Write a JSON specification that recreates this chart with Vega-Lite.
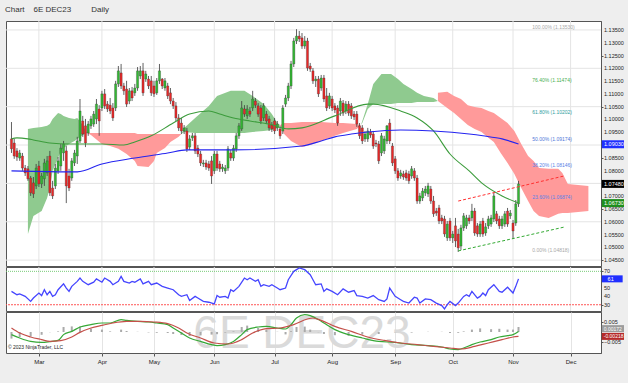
{
"$schema": "https://vega.github.io/schema/vega-lite/v6.json",
"background": "#eeeeee",
"padding": {"left": 5, "top": 6, "right": 0, "bottom": 18},
"title": {"text": "Chart\u00a0\u00a0\u00a0\u00a06E DEC23\u00a0\u00a0\u00a0\u00a0\u00a0\u00a0\u00a0\u00a0\u00a0Daily", "anchor": "start", "fontSize": 8, "fontWeight": "normal", "color": "#333333", "offset": 6, "font": "Liberation Sans"},
"spacing": 1,
"bounds": "flush",
"config": {
  "view": {"fill": "#ffffff", "stroke": "#555555", "strokeWidth": 1},
  "scale": {"continuousPadding": 0},
  "axis": {"labelFont": "Liberation Sans", "labelFontSize": 5.5, "labelColor": "#222222", "tickColor": "#555555", "domainColor": "#555555", "gridColor": "#e4e4e4", "labelOverlap": false},
  "text": {"font": "Liberation Sans"}
},
"datasets": {
  "months": [{"t":0},{"t":23},{"t":42},{"t":64},{"t":86},{"t":107},{"t":130},{"t":151},{"t":173},{"t":194}],
  "plabels": [{"g":1.045},{"g":1.05},{"g":1.055},{"g":1.06},{"g":1.065},{"g":1.07},{"g":1.08},{"g":1.085},{"g":1.095},{"g":1.1},{"g":1.105},{"g":1.11},{"g":1.115},{"g":1.12},{"g":1.125},{"g":1.13},{"g":1.135}],
  "candles": [
{"t":-10,"o":1.0924,"h":1.0990,"l":1.0869,"c":1.0885},
{"t":-9,"o":1.0908,"h":1.0924,"l":1.0846,"c":1.0857},
{"t":-8,"o":1.0877,"h":1.0888,"l":1.0838,"c":1.0853},
{"t":-7,"o":1.0849,"h":1.0881,"l":1.0838,"c":1.0869},
{"t":-6,"o":1.0857,"h":1.0869,"l":1.0799,"c":1.0810},
{"t":-5,"o":1.0810,"h":1.0822,"l":1.0779,"c":1.0791},
{"t":-4,"o":1.0807,"h":1.0818,"l":1.0760,"c":1.0768},
{"t":-3,"o":1.0771,"h":1.0779,"l":1.0701,"c":1.0713},
{"t":-2,"o":1.0752,"h":1.0775,"l":1.0693,"c":1.0709},
{"t":-1,"o":1.0740,"h":1.0826,"l":1.0728,"c":1.0810},
{"t":0,"o":1.0818,"h":1.0838,"l":1.0736,"c":1.0748},
{"t":1,"o":1.0748,"h":1.0791,"l":1.0732,"c":1.0779},
{"t":2,"o":1.0768,"h":1.0846,"l":1.0740,"c":1.0830},
{"t":3,"o":1.0791,"h":1.0857,"l":1.0779,"c":1.0838},
{"t":4,"o":1.0857,"h":1.0877,"l":1.0701,"c":1.0713},
{"t":5,"o":1.0732,"h":1.0760,"l":1.0689,"c":1.0701},
{"t":6,"o":1.0740,"h":1.0826,"l":1.0728,"c":1.0810},
{"t":7,"o":1.0799,"h":1.0853,"l":1.0787,"c":1.0838},
{"t":8,"o":1.0818,"h":1.0904,"l":1.0799,"c":1.0888},
{"t":9,"o":1.0869,"h":1.0916,"l":1.0838,"c":1.0904},
{"t":10,"o":1.0877,"h":1.0896,"l":1.0673,"c":1.0740},
{"t":11,"o":1.0779,"h":1.0807,"l":1.0720,"c":1.0732},
{"t":12,"o":1.0771,"h":1.0849,"l":1.0760,"c":1.0838},
{"t":13,"o":1.0830,"h":1.0881,"l":1.0818,"c":1.0869},
{"t":14,"o":1.0857,"h":1.0932,"l":1.0826,"c":1.0916},
{"t":15,"o":1.0916,"h":1.1080,"l":1.0908,"c":1.1033},
{"t":16,"o":1.0994,"h":1.1014,"l":1.0932,"c":1.0943},
{"t":17,"o":1.0975,"h":1.1002,"l":1.0892,"c":1.0908},
{"t":18,"o":1.0947,"h":1.0994,"l":1.0936,"c":1.0982},
{"t":19,"o":1.0975,"h":1.1014,"l":1.0963,"c":1.1002},
{"t":20,"o":1.0982,"h":1.1033,"l":1.0971,"c":1.1021},
{"t":21,"o":1.1002,"h":1.1080,"l":1.0982,"c":1.1060},
{"t":22,"o":1.1041,"h":1.1056,"l":1.0936,"c":1.0994},
{"t":23,"o":1.1045,"h":1.1112,"l":1.1033,"c":1.1100},
{"t":24,"o":1.1100,"h":1.1119,"l":1.1041,"c":1.1053},
{"t":25,"o":1.1060,"h":1.1072,"l":1.1029,"c":1.1041},
{"t":26,"o":1.1056,"h":1.1084,"l":1.1021,"c":1.1033},
{"t":27,"o":1.1045,"h":1.1064,"l":1.0994,"c":1.1006},
{"t":28,"o":1.1045,"h":1.1151,"l":1.1033,"c":1.1139},
{"t":29,"o":1.1139,"h":1.1209,"l":1.1127,"c":1.1190},
{"t":30,"o":1.1182,"h":1.1217,"l":1.1119,"c":1.1131},
{"t":31,"o":1.1131,"h":1.1143,"l":1.1096,"c":1.1112},
{"t":32,"o":1.1119,"h":1.1151,"l":1.1049,"c":1.1060},
{"t":33,"o":1.1072,"h":1.1123,"l":1.1060,"c":1.1112},
{"t":34,"o":1.1112,"h":1.1127,"l":1.1072,"c":1.1084},
{"t":35,"o":1.1104,"h":1.1139,"l":1.1092,"c":1.1123},
{"t":36,"o":1.1123,"h":1.1205,"l":1.1112,"c":1.1190},
{"t":37,"o":1.1170,"h":1.1209,"l":1.1158,"c":1.1190},
{"t":38,"o":1.1190,"h":1.1221,"l":1.1092,"c":1.1104},
{"t":39,"o":1.1158,"h":1.1190,"l":1.1147,"c":1.1178},
{"t":40,"o":1.1158,"h":1.1170,"l":1.1119,"c":1.1131},
{"t":41,"o":1.1151,"h":1.1170,"l":1.1092,"c":1.1104},
{"t":42,"o":1.1131,"h":1.1151,"l":1.1088,"c":1.1100},
{"t":43,"o":1.1104,"h":1.1162,"l":1.1096,"c":1.1151},
{"t":44,"o":1.1151,"h":1.1217,"l":1.1139,"c":1.1190},
{"t":45,"o":1.1158,"h":1.1162,"l":1.1119,"c":1.1131},
{"t":46,"o":1.1123,"h":1.1162,"l":1.1112,"c":1.1151},
{"t":47,"o":1.1131,"h":1.1143,"l":1.1080,"c":1.1092},
{"t":48,"o":1.1104,"h":1.1123,"l":1.1060,"c":1.1072},
{"t":49,"o":1.1072,"h":1.1084,"l":1.1041,"c":1.1053},
{"t":50,"o":1.1053,"h":1.1068,"l":1.0994,"c":1.1006},
{"t":51,"o":1.1006,"h":1.1021,"l":1.0955,"c":1.0967},
{"t":52,"o":1.0986,"h":1.1006,"l":1.0943,"c":1.0955},
{"t":53,"o":1.0955,"h":1.0978,"l":1.0943,"c":1.0967},
{"t":54,"o":1.0955,"h":1.0967,"l":1.0873,"c":1.0885},
{"t":55,"o":1.0892,"h":1.0939,"l":1.0881,"c":1.0924},
{"t":56,"o":1.0928,"h":1.0947,"l":1.0916,"c":1.0936},
{"t":57,"o":1.0936,"h":1.0947,"l":1.0865,"c":1.0877},
{"t":58,"o":1.0888,"h":1.0900,"l":1.0853,"c":1.0865},
{"t":59,"o":1.0865,"h":1.0877,"l":1.0818,"c":1.0830},
{"t":60,"o":1.0826,"h":1.0842,"l":1.0814,"c":1.0830},
{"t":61,"o":1.0830,"h":1.0842,"l":1.0803,"c":1.0814},
{"t":62,"o":1.0826,"h":1.0838,"l":1.0799,"c":1.0810},
{"t":63,"o":1.0838,"h":1.0857,"l":1.0748,"c":1.0779},
{"t":64,"o":1.0799,"h":1.0877,"l":1.0787,"c":1.0865},
{"t":65,"o":1.0865,"h":1.0877,"l":1.0799,"c":1.0810},
{"t":66,"o":1.0826,"h":1.0838,"l":1.0795,"c":1.0807},
{"t":67,"o":1.0807,"h":1.0826,"l":1.0795,"c":1.0814},
{"t":68,"o":1.0799,"h":1.0822,"l":1.0787,"c":1.0810},
{"t":69,"o":1.0810,"h":1.0896,"l":1.0799,"c":1.0885},
{"t":70,"o":1.0869,"h":1.0881,"l":1.0838,"c":1.0849},
{"t":71,"o":1.0849,"h":1.0900,"l":1.0838,"c":1.0888},
{"t":72,"o":1.0885,"h":1.0947,"l":1.0873,"c":1.0936},
{"t":73,"o":1.0936,"h":1.0986,"l":1.0924,"c":1.0975},
{"t":74,"o":1.0963,"h":1.1072,"l":1.0955,"c":1.1045},
{"t":75,"o":1.1041,"h":1.1056,"l":1.1010,"c":1.1021},
{"t":76,"o":1.1014,"h":1.1056,"l":1.1002,"c":1.1041},
{"t":77,"o":1.1033,"h":1.1049,"l":1.1010,"c":1.1021},
{"t":78,"o":1.1045,"h":1.1112,"l":1.1033,"c":1.1080},
{"t":79,"o":1.1072,"h":1.1084,"l":1.1045,"c":1.1056},
{"t":80,"o":1.1053,"h":1.1064,"l":1.1010,"c":1.1021},
{"t":81,"o":1.1045,"h":1.1056,"l":1.0982,"c":1.0994},
{"t":82,"o":1.1006,"h":1.1064,"l":1.0994,"c":1.1053},
{"t":83,"o":1.1021,"h":1.1033,"l":1.0982,"c":1.0994},
{"t":84,"o":1.1002,"h":1.1014,"l":1.0955,"c":1.0967},
{"t":85,"o":1.0978,"h":1.0990,"l":1.0951,"c":1.0963},
{"t":86,"o":1.0994,"h":1.1006,"l":1.0943,"c":1.0955},
{"t":87,"o":1.0967,"h":1.0994,"l":1.0955,"c":1.0982},
{"t":88,"o":1.0963,"h":1.0975,"l":1.0924,"c":1.0936},
{"t":89,"o":1.0955,"h":1.1056,"l":1.0943,"c":1.1045},
{"t":90,"o":1.1060,"h":1.1096,"l":1.1049,"c":1.1084},
{"t":91,"o":1.1084,"h":1.1143,"l":1.1072,"c":1.1131},
{"t":92,"o":1.1131,"h":1.1229,"l":1.1119,"c":1.1217},
{"t":93,"o":1.1217,"h":1.1319,"l":1.1205,"c":1.1307},
{"t":94,"o":1.1307,"h":1.1353,"l":1.1295,"c":1.1326},
{"t":95,"o":1.1326,"h":1.1346,"l":1.1303,"c":1.1315},
{"t":96,"o":1.1319,"h":1.1338,"l":1.1276,"c":1.1287},
{"t":97,"o":1.1287,"h":1.1326,"l":1.1276,"c":1.1307},
{"t":98,"o":1.1307,"h":1.1319,"l":1.1190,"c":1.1201},
{"t":99,"o":1.1209,"h":1.1221,"l":1.1186,"c":1.1197},
{"t":100,"o":1.1190,"h":1.1201,"l":1.1139,"c":1.1151},
{"t":101,"o":1.1151,"h":1.1170,"l":1.1127,"c":1.1158},
{"t":102,"o":1.1158,"h":1.1170,"l":1.1088,"c":1.1100},
{"t":103,"o":1.1123,"h":1.1174,"l":1.1112,"c":1.1162},
{"t":104,"o":1.1162,"h":1.1174,"l":1.1068,"c":1.1080},
{"t":105,"o":1.1092,"h":1.1123,"l":1.1033,"c":1.1045},
{"t":106,"o":1.1053,"h":1.1104,"l":1.1041,"c":1.1092},
{"t":107,"o":1.1080,"h":1.1092,"l":1.1033,"c":1.1045},
{"t":108,"o":1.1053,"h":1.1064,"l":1.1025,"c":1.1037},
{"t":109,"o":1.1045,"h":1.1056,"l":1.0975,"c":1.0986},
{"t":110,"o":1.1033,"h":1.1084,"l":1.1014,"c":1.1072},
{"t":111,"o":1.1064,"h":1.1076,"l":1.1014,"c":1.1025},
{"t":112,"o":1.1033,"h":1.1072,"l":1.1021,"c":1.1060},
{"t":113,"o":1.1060,"h":1.1072,"l":1.1014,"c":1.1025},
{"t":114,"o":1.1053,"h":1.1064,"l":1.1002,"c":1.1014},
{"t":115,"o":1.1021,"h":1.1033,"l":1.0998,"c":1.1010},
{"t":116,"o":1.1021,"h":1.1033,"l":1.0971,"c":1.0982},
{"t":117,"o":1.0975,"h":1.0986,"l":1.0924,"c":1.0936},
{"t":118,"o":1.0967,"h":1.0978,"l":1.0904,"c":1.0916},
{"t":119,"o":1.0924,"h":1.0955,"l":1.0912,"c":1.0943},
{"t":120,"o":1.0924,"h":1.0967,"l":1.0912,"c":1.0955},
{"t":121,"o":1.0951,"h":1.0963,"l":1.0928,"c":1.0939},
{"t":122,"o":1.0943,"h":1.0955,"l":1.0885,"c":1.0896},
{"t":123,"o":1.0908,"h":1.0920,"l":1.0892,"c":1.0904},
{"t":124,"o":1.0904,"h":1.0916,"l":1.0826,"c":1.0838},
{"t":125,"o":1.0869,"h":1.0947,"l":1.0857,"c":1.0936},
{"t":126,"o":1.0877,"h":1.0936,"l":1.0865,"c":1.0924},
{"t":127,"o":1.0916,"h":1.0978,"l":1.0904,"c":1.0975},
{"t":128,"o":1.0986,"h":1.1002,"l":1.0904,"c":1.0916},
{"t":129,"o":1.0896,"h":1.0908,"l":1.0818,"c":1.0830},
{"t":130,"o":1.0846,"h":1.0857,"l":1.0787,"c":1.0799},
{"t":131,"o":1.0799,"h":1.0810,"l":1.0760,"c":1.0771},
{"t":132,"o":1.0779,"h":1.0803,"l":1.0768,"c":1.0791},
{"t":133,"o":1.0787,"h":1.0799,"l":1.0764,"c":1.0775},
{"t":134,"o":1.0791,"h":1.0803,"l":1.0760,"c":1.0771},
{"t":135,"o":1.0787,"h":1.0799,"l":1.0748,"c":1.0760},
{"t":136,"o":1.0779,"h":1.0818,"l":1.0768,"c":1.0807},
{"t":137,"o":1.0799,"h":1.0810,"l":1.0760,"c":1.0771},
{"t":138,"o":1.0771,"h":1.0783,"l":1.0670,"c":1.0681},
{"t":139,"o":1.0681,"h":1.0713,"l":1.0670,"c":1.0701},
{"t":140,"o":1.0693,"h":1.0732,"l":1.0681,"c":1.0720},
{"t":141,"o":1.0713,"h":1.0740,"l":1.0701,"c":1.0728},
{"t":142,"o":1.0709,"h":1.0752,"l":1.0697,"c":1.0740},
{"t":143,"o":1.0728,"h":1.0740,"l":1.0670,"c":1.0681},
{"t":144,"o":1.0681,"h":1.0701,"l":1.0619,"c":1.0631},
{"t":145,"o":1.0642,"h":1.0654,"l":1.0623,"c":1.0634},
{"t":146,"o":1.0654,"h":1.0666,"l":1.0591,"c":1.0603},
{"t":147,"o":1.0615,"h":1.0627,"l":1.0591,"c":1.0603},
{"t":148,"o":1.0611,"h":1.0623,"l":1.0541,"c":1.0552},
{"t":149,"o":1.0537,"h":1.0603,"l":1.0525,"c":1.0591},
{"t":150,"o":1.0603,"h":1.0615,"l":1.0525,"c":1.0537},
{"t":151,"o":1.0537,"h":1.0564,"l":1.0517,"c":1.0552},
{"t":152,"o":1.0584,"h":1.0615,"l":1.0501,"c":1.0525},
{"t":153,"o":1.0552,"h":1.0572,"l":1.0482,"c":1.0498},
{"t":154,"o":1.0505,"h":1.0588,"l":1.0490,"c":1.0576},
{"t":155,"o":1.0576,"h":1.0634,"l":1.0564,"c":1.0623},
{"t":156,"o":1.0584,"h":1.0627,"l":1.0572,"c":1.0615},
{"t":157,"o":1.0615,"h":1.0627,"l":1.0591,"c":1.0603},
{"t":158,"o":1.0615,"h":1.0670,"l":1.0603,"c":1.0642},
{"t":159,"o":1.0642,"h":1.0654,"l":1.0545,"c":1.0556},
{"t":160,"o":1.0584,"h":1.0595,"l":1.0541,"c":1.0552},
{"t":161,"o":1.0552,"h":1.0603,"l":1.0541,"c":1.0591},
{"t":162,"o":1.0603,"h":1.0615,"l":1.0541,"c":1.0552},
{"t":163,"o":1.0556,"h":1.0595,"l":1.0545,"c":1.0580},
{"t":164,"o":1.0584,"h":1.0623,"l":1.0572,"c":1.0611},
{"t":165,"o":1.0591,"h":1.0627,"l":1.0580,"c":1.0615},
{"t":166,"o":1.0611,"h":1.0713,"l":1.0599,"c":1.0701},
{"t":167,"o":1.0631,"h":1.0642,"l":1.0591,"c":1.0603},
{"t":168,"o":1.0611,"h":1.0623,"l":1.0572,"c":1.0584},
{"t":169,"o":1.0584,"h":1.0623,"l":1.0572,"c":1.0611},
{"t":170,"o":1.0591,"h":1.0642,"l":1.0580,"c":1.0631},
{"t":171,"o":1.0642,"h":1.0654,"l":1.0580,"c":1.0591},
{"t":172,"o":1.0623,"h":1.0646,"l":1.0611,"c":1.0634},
{"t":173,"o":1.0595,"h":1.0607,"l":1.0533,"c":1.0564},
{"t":174,"o":1.0595,"h":1.0685,"l":1.0584,"c":1.0670},
{"t":175,"o":1.0670,"h":1.0760,"l":1.0658,"c":1.0748}
  ],
  "cloud": [
{"seg":"g1","kind":"up","t":-4,"hi":1.0963,"lo":1.0552},
{"seg":"g1","kind":"up","t":-2,"hi":1.0967,"lo":1.0623},
{"seg":"g1","kind":"up","t":1,"hi":1.0971,"lo":1.0642},
{"seg":"g1","kind":"up","t":3,"hi":1.0975,"lo":1.0693},
{"seg":"g1","kind":"up","t":4,"hi":1.0982,"lo":1.0732},
{"seg":"g1","kind":"up","t":5,"hi":1.1002,"lo":1.0799},
{"seg":"g1","kind":"up","t":7,"hi":1.1025,"lo":1.0849},
{"seg":"g1","kind":"up","t":8,"hi":1.1021,"lo":1.0877},
{"seg":"g1","kind":"up","t":9,"hi":1.1014,"lo":1.0888},
{"seg":"g1","kind":"up","t":11,"hi":1.1006,"lo":1.0904},
{"seg":"g1","kind":"up","t":13,"hi":1.1002,"lo":1.0916},
{"seg":"g1","kind":"up","t":14,"hi":1.1006,"lo":1.0924},
{"seg":"g1","kind":"up","t":16,"hi":1.0978,"lo":1.0939},
{"seg":"g1","kind":"up","t":17.5,"hi":1.0947,"lo":1.0947},
{"seg":"r1","kind":"down","t":17.5,"hi":1.0947,"lo":1.0947},
{"seg":"r1","kind":"down","t":19,"hi":1.0947,"lo":1.0939},
{"seg":"r1","kind":"down","t":23,"hi":1.0947,"lo":1.0904},
{"seg":"r1","kind":"down","t":26,"hi":1.0947,"lo":1.0896},
{"seg":"r1","kind":"down","t":29,"hi":1.0947,"lo":1.0885},
{"seg":"r1","kind":"down","t":32,"hi":1.0947,"lo":1.0865},
{"seg":"r1","kind":"down","t":35,"hi":1.0947,"lo":1.0838},
{"seg":"r1","kind":"down","t":36,"hi":1.0943,"lo":1.0818},
{"seg":"r1","kind":"down","t":40,"hi":1.0943,"lo":1.0814},
{"seg":"r1","kind":"down","t":42,"hi":1.0943,"lo":1.0838},
{"seg":"r1","kind":"down","t":43,"hi":1.0943,"lo":1.0869},
{"seg":"r1","kind":"down","t":46,"hi":1.0943,"lo":1.0888},
{"seg":"r1","kind":"down","t":48,"hi":1.0943,"lo":1.0912},
{"seg":"r1","kind":"down","t":51,"hi":1.0943,"lo":1.0932},
{"seg":"r1","kind":"down","t":52,"hi":1.0943,"lo":1.0943},
{"seg":"g2","kind":"up","t":52,"hi":1.0943,"lo":1.0943},
{"seg":"g2","kind":"up","t":53,"hi":1.0967,"lo":1.0951},
{"seg":"g2","kind":"up","t":57,"hi":1.1006,"lo":1.0947},
{"seg":"g2","kind":"up","t":62,"hi":1.1053,"lo":1.0947},
{"seg":"g2","kind":"up","t":65,"hi":1.1092,"lo":1.0947},
{"seg":"g2","kind":"up","t":70,"hi":1.1112,"lo":1.0947},
{"seg":"g2","kind":"up","t":75,"hi":1.1112,"lo":1.0947},
{"seg":"g2","kind":"up","t":78,"hi":1.1092,"lo":1.0951},
{"seg":"g2","kind":"up","t":82,"hi":1.1060,"lo":1.0955},
{"seg":"g2","kind":"up","t":85,"hi":1.1021,"lo":1.0959},
{"seg":"g2","kind":"up","t":87,"hi":1.0986,"lo":1.0967},
{"seg":"g2","kind":"up","t":88,"hi":1.0978,"lo":1.0978},
{"seg":"r2","kind":"down","t":88,"hi":1.0978,"lo":1.0978},
{"seg":"r2","kind":"down","t":89.5,"hi":1.0986,"lo":1.0943},
{"seg":"r2","kind":"down","t":92,"hi":1.0986,"lo":1.0916},
{"seg":"r2","kind":"down","t":96,"hi":1.0990,"lo":1.0892},
{"seg":"r2","kind":"down","t":99,"hi":1.0990,"lo":1.0900},
{"seg":"r2","kind":"down","t":103,"hi":1.0990,"lo":1.0916},
{"seg":"r2","kind":"down","t":108,"hi":1.0986,"lo":1.0936},
{"seg":"r2","kind":"down","t":111,"hi":1.0986,"lo":1.0947},
{"seg":"r2","kind":"down","t":116,"hi":1.0982,"lo":1.0963},
{"seg":"r2","kind":"down","t":117.5,"hi":1.0978,"lo":1.0978},
{"seg":"g3","kind":"up","t":117.5,"hi":1.0978,"lo":1.0978},
{"seg":"g3","kind":"up","t":118,"hi":1.0994,"lo":1.0986},
{"seg":"g3","kind":"up","t":120,"hi":1.1060,"lo":1.1041},
{"seg":"g3","kind":"up","t":122,"hi":1.1139,"lo":1.1060},
{"seg":"g3","kind":"up","t":125,"hi":1.1178,"lo":1.1060},
{"seg":"g3","kind":"up","t":128.5,"hi":1.1178,"lo":1.1060},
{"seg":"g3","kind":"up","t":131,"hi":1.1158,"lo":1.1064},
{"seg":"g3","kind":"up","t":133,"hi":1.1139,"lo":1.1064},
{"seg":"g3","kind":"up","t":136,"hi":1.1119,"lo":1.1064},
{"seg":"g3","kind":"up","t":138,"hi":1.1104,"lo":1.1068},
{"seg":"g3","kind":"up","t":140.5,"hi":1.1092,"lo":1.1068},
{"seg":"g3","kind":"up","t":144,"hi":1.1084,"lo":1.1068},
{"seg":"g3","kind":"up","t":145.6,"hi":1.1072,"lo":1.1072},
{"seg":"r3","kind":"down","t":145.6,"hi":1.1104,"lo":1.1072},
{"seg":"r3","kind":"down","t":149,"hi":1.1108,"lo":1.1045},
{"seg":"r3","kind":"down","t":151.5,"hi":1.1092,"lo":1.1025},
{"seg":"r3","kind":"down","t":154,"hi":1.1080,"lo":1.1002},
{"seg":"r3","kind":"down","t":156.5,"hi":1.1056,"lo":1.0978},
{"seg":"r3","kind":"down","t":159,"hi":1.1049,"lo":1.0963},
{"seg":"r3","kind":"down","t":161.5,"hi":1.1045,"lo":1.0951},
{"seg":"r3","kind":"down","t":164,"hi":1.1033,"lo":1.0928},
{"seg":"r3","kind":"down","t":166,"hi":1.1025,"lo":1.0912},
{"seg":"r3","kind":"down","t":168.5,"hi":1.1006,"lo":1.0869},
{"seg":"r3","kind":"down","t":171,"hi":1.0986,"lo":1.0830},
{"seg":"r3","kind":"down","t":173.5,"hi":1.0955,"lo":1.0787},
{"seg":"r3","kind":"down","t":176,"hi":1.0904,"lo":1.0732},
{"seg":"r3","kind":"down","t":178.5,"hi":1.0857,"lo":1.0681},
{"seg":"r3","kind":"down","t":180.5,"hi":1.0838,"lo":1.0642},
{"seg":"r3","kind":"down","t":182.5,"hi":1.0810,"lo":1.0623},
{"seg":"r3","kind":"down","t":186,"hi":1.0807,"lo":1.0615},
{"seg":"r3","kind":"down","t":189.5,"hi":1.0807,"lo":1.0631},
{"seg":"r3","kind":"down","t":191,"hi":1.0791,"lo":1.0634},
{"seg":"r3","kind":"down","t":193,"hi":1.0748,"lo":1.0634},
{"seg":"r3","kind":"down","t":200.5,"hi":1.0740,"lo":1.0642}
  ],
  "sma": [
{"ma":"sma50","t":-10,"v":1.0924},{"ma":"sma50","t":-8,"v":1.0928},{"ma":"sma50","t":-4,"v":1.0924},{"ma":"sma50","t":-2,"v":1.0920},{"ma":"sma50","t":4,"v":1.0908},{"ma":"sma50","t":11,"v":1.0904},{"ma":"sma50","t":23,"v":1.0904},{"ma":"sma50","t":31,"v":1.0900},{"ma":"sma50","t":35,"v":1.0912},{"ma":"sma50","t":41,"v":1.0936},{"ma":"sma50","t":49,"v":1.0986},{"ma":"sma50","t":55,"v":1.1021},{"ma":"sma50","t":62,"v":1.1033},{"ma":"sma50","t":66,"v":1.1021},{"ma":"sma50","t":71,"v":1.1006},{"ma":"sma50","t":77,"v":1.0994},{"ma":"sma50","t":84,"v":1.0982},{"ma":"sma50","t":91,"v":1.0963},{"ma":"sma50","t":96,"v":1.0967},{"ma":"sma50","t":108,"v":1.1014},{"ma":"sma50","t":120,"v":1.1060},{"ma":"sma50","t":122,"v":1.1060},{"ma":"sma50","t":132,"v":1.1033},{"ma":"sma50","t":138,"v":1.1006},{"ma":"sma50","t":144,"v":1.0955},{"ma":"sma50","t":150,"v":1.0865},{"ma":"sma50","t":157,"v":1.0799},{"ma":"sma50","t":162,"v":1.0748},{"ma":"sma50","t":169,"v":1.0701},{"ma":"sma50","t":175,"v":1.0673},
{"ma":"sma200","t":-10,"v":1.0799},{"ma":"sma200","t":14,"v":1.0795},{"ma":"sma200","t":23,"v":1.0826},{"ma":"sma200","t":35,"v":1.0849},{"ma":"sma200","t":47,"v":1.0869},{"ma":"sma200","t":54,"v":1.0881},{"ma":"sma200","t":71,"v":1.0881},{"ma":"sma200","t":96,"v":1.0896},{"ma":"sma200","t":103,"v":1.0916},{"ma":"sma200","t":108,"v":1.0932},{"ma":"sma200","t":114,"v":1.0943},{"ma":"sma200","t":120,"v":1.0951},{"ma":"sma200","t":132,"v":1.0959},{"ma":"sma200","t":144,"v":1.0955},{"ma":"sma200","t":157,"v":1.0943},{"ma":"sma200","t":162,"v":1.0936},{"ma":"sma200","t":169,"v":1.0924},{"ma":"sma200","t":175,"v":1.0904}
  ],
  "rsi": [
{"t":-10,"v":46},{"t":-8,"v":42},{"t":-7,"v":43},{"t":-5,"v":40},{"t":-3,"v":34},{"t":-2,"v":38},{"t":0,"v":44},{"t":1,"v":41},{"t":2,"v":48},{"t":3,"v":42},{"t":4,"v":46},{"t":5,"v":40},{"t":6,"v":42},{"t":7,"v":48},{"t":9,"v":55},{"t":10,"v":50},{"t":11,"v":46},{"t":12,"v":52},{"t":14,"v":58},{"t":15,"v":62},{"t":16,"v":58},{"t":18,"v":54},{"t":20,"v":57},{"t":21,"v":61},{"t":23,"v":57},{"t":24,"v":62},{"t":26,"v":58},{"t":27,"v":54},{"t":29,"v":58},{"t":30,"v":64},{"t":31,"v":58},{"t":33,"v":56},{"t":34,"v":58},{"t":35,"v":57},{"t":37,"v":61},{"t":38,"v":55},{"t":40,"v":58},{"t":41,"v":54},{"t":43,"v":56},{"t":45,"v":52},{"t":47,"v":50},{"t":49,"v":48},{"t":51,"v":42},{"t":52,"v":40},{"t":54,"v":42},{"t":55,"v":35},{"t":57,"v":40},{"t":58,"v":38},{"t":60,"v":34},{"t":62,"v":33},{"t":64,"v":31},{"t":65,"v":41},{"t":66,"v":39},{"t":68,"v":40},{"t":69,"v":38},{"t":70,"v":48},{"t":71,"v":46},{"t":73,"v":52},{"t":75,"v":62},{"t":76,"v":60},{"t":77,"v":62},{"t":79,"v":58},{"t":80,"v":60},{"t":81,"v":52},{"t":82,"v":54},{"t":84,"v":52},{"t":85,"v":54},{"t":87,"v":50},{"t":88,"v":48},{"t":90,"v":50},{"t":91,"v":60},{"t":93,"v":70},{"t":95,"v":74},{"t":97,"v":72},{"t":99,"v":66},{"t":100,"v":60},{"t":101,"v":54},{"t":103,"v":55},{"t":104,"v":46},{"t":105,"v":49},{"t":107,"v":46},{"t":109,"v":42},{"t":111,"v":49},{"t":113,"v":45},{"t":115,"v":47},{"t":116,"v":41},{"t":118,"v":40},{"t":120,"v":38},{"t":122,"v":41},{"t":124,"v":36},{"t":126,"v":34},{"t":127,"v":37},{"t":128,"v":50},{"t":130,"v":40},{"t":131,"v":38},{"t":132,"v":36},{"t":133,"v":34},{"t":135,"v":32},{"t":137,"v":39},{"t":138,"v":38},{"t":139,"v":32},{"t":141,"v":37},{"t":143,"v":36},{"t":145,"v":32},{"t":147,"v":29},{"t":148,"v":25},{"t":149,"v":30},{"t":150,"v":34},{"t":152,"v":29},{"t":153,"v":32},{"t":155,"v":40},{"t":156,"v":42},{"t":157,"v":40},{"t":158,"v":46},{"t":160,"v":38},{"t":161,"v":40},{"t":162,"v":44},{"t":163,"v":41},{"t":164,"v":48},{"t":166,"v":54},{"t":168,"v":46},{"t":169,"v":45},{"t":171,"v":51},{"t":173,"v":44},{"t":174,"v":52},{"t":175,"v":61}
  ],
  "macd": [
{"s":"macd","t":-10,"v":-0.0013},{"s":"macd","t":-7,"v":-0.003},{"s":"macd","t":-3,"v":-0.0047},{"s":"macd","t":1,"v":-0.0052},{"s":"macd","t":4,"v":-0.0048},{"s":"macd","t":7,"v":-0.0042},{"s":"macd","t":9,"v":-0.0013},{"s":"macd","t":12,"v":0.0003},{"s":"macd","t":15,"v":0.0025},{"s":"macd","t":19,"v":0.0037},{"s":"macd","t":23,"v":0.0045},{"s":"macd","t":26,"v":0.0045},{"s":"macd","t":30,"v":0.0062},{"s":"macd","t":32,"v":0.0058},{"s":"macd","t":36,"v":0.0053},{"s":"macd","t":40,"v":0.005},{"s":"macd","t":43,"v":0.0045},{"s":"macd","t":47,"v":0.0037},{"s":"macd","t":49,"v":0.002},{"s":"macd","t":52,"v":-0.0005},{"s":"macd","t":55,"v":-0.003},{"s":"macd","t":59,"v":-0.0047},{"s":"macd","t":63,"v":-0.0063},{"s":"macd","t":65,"v":-0.0068},{"s":"macd","t":68,"v":-0.0063},{"s":"macd","t":71,"v":-0.0047},{"s":"macd","t":74,"v":-0.0013},{"s":"macd","t":76,"v":0.0012},{"s":"macd","t":80,"v":0.0025},{"s":"macd","t":83,"v":0.0028},{"s":"macd","t":87,"v":0.002},{"s":"macd","t":90,"v":0.0015},{"s":"macd","t":92,"v":0.0037},{"s":"macd","t":94,"v":0.007},{"s":"macd","t":97,"v":0.0087},{"s":"macd","t":99,"v":0.0082},{"s":"macd","t":102,"v":0.0062},{"s":"macd","t":104,"v":0.0045},{"s":"macd","t":108,"v":0.0012},{"s":"macd","t":113,"v":-0.0013},{"s":"macd","t":118,"v":-0.003},{"s":"macd","t":124,"v":-0.0047},{"s":"macd","t":130,"v":-0.0052},{"s":"macd","t":136,"v":-0.0063},{"s":"macd","t":142,"v":-0.0068},{"s":"macd","t":147,"v":-0.0075},{"s":"macd","t":150,"v":-0.0085},{"s":"macd","t":153,"v":-0.0088},{"s":"macd","t":155,"v":-0.008},{"s":"macd","t":158,"v":-0.0063},{"s":"macd","t":161,"v":-0.005},{"s":"macd","t":165,"v":-0.0038},{"s":"macd","t":168,"v":-0.0025},{"s":"macd","t":171,"v":-0.0018},{"s":"macd","t":173,"v":-0.0013},{"s":"macd","t":175,"v":0.0003},
{"s":"sig","t":-10,"v":0.002},{"s":"sig","t":-7,"v":-0.0005},{"s":"sig","t":-3,"v":-0.0025},{"s":"sig","t":1,"v":-0.0038},{"s":"sig","t":4,"v":-0.0047},{"s":"sig","t":8,"v":-0.0043},{"s":"sig","t":12,"v":-0.0025},{"s":"sig","t":15,"v":-0.0002},{"s":"sig","t":19,"v":0.002},{"s":"sig","t":23,"v":0.0033},{"s":"sig","t":27,"v":0.0045},{"s":"sig","t":32,"v":0.0053},{"s":"sig","t":37,"v":0.0053},{"s":"sig","t":42,"v":0.005},{"s":"sig","t":47,"v":0.0042},{"s":"sig","t":51,"v":0.002},{"s":"sig","t":54,"v":-0.0005},{"s":"sig","t":59,"v":-0.003},{"s":"sig","t":64,"v":-0.0055},{"s":"sig","t":69,"v":-0.006},{"s":"sig","t":74,"v":-0.0038},{"s":"sig","t":78,"v":-0.0005},{"s":"sig","t":83,"v":0.0017},{"s":"sig","t":88,"v":0.002},{"s":"sig","t":93,"v":0.0037},{"s":"sig","t":98,"v":0.0065},{"s":"sig","t":100,"v":0.007},{"s":"sig","t":103,"v":0.0058},{"s":"sig","t":108,"v":0.0028},{"s":"sig","t":114,"v":0.0003},{"s":"sig","t":120,"v":-0.0025},{"s":"sig","t":126,"v":-0.0042},{"s":"sig","t":132,"v":-0.0055},{"s":"sig","t":138,"v":-0.0063},{"s":"sig","t":144,"v":-0.0072},{"s":"sig","t":150,"v":-0.008},{"s":"sig","t":154,"v":-0.0085},{"s":"sig","t":159,"v":-0.0072},{"s":"sig","t":164,"v":-0.0055},{"s":"sig","t":169,"v":-0.0038},{"s":"sig","t":173,"v":-0.0025},{"s":"sig","t":175,"v":-0.0022}
  ],
  "hist": [
{"t":-10,"h":-0.0033},{"t":-7,"h":-0.0025},{"t":-3,"h":-0.0022},{"t":1,"h":-0.0014},{"t":4,"h":-0.0001},{"t":7,"h":0.0003},{"t":9,"h":0.0025},{"t":12,"h":0.0028},{"t":15,"h":0.0027},{"t":19,"h":0.0017},{"t":23,"h":0.0012},{"t":26,"h":0.0003},{"t":30,"h":0.0012},{"t":32,"h":0.0005},{"t":36,"h":0.0001},{"t":40,"h":-0.0002},{"t":43,"h":-0.0004},{"t":47,"h":-0.0005},{"t":49,"h":-0.001},{"t":52,"h":-0.0015},{"t":55,"h":-0.002},{"t":59,"h":-0.0017},{"t":63,"h":-0.0013},{"t":65,"h":-0.0011},{"t":68,"h":-0.0003},{"t":71,"h":0.0003},{"t":74,"h":0.0025},{"t":76,"h":0.0032},{"t":80,"h":0.002},{"t":83,"h":0.0011},{"t":87,"h":0.0001},{"t":90,"h":-0.0012},{"t":92,"h":0.0004},{"t":94,"h":0.0025},{"t":97,"h":0.0027},{"t":99,"h":0.0012},{"t":102,"h":-0.0001},{"t":104,"h":-0.001},{"t":108,"h":-0.0016},{"t":113,"h":-0.0019},{"t":118,"h":-0.0013},{"t":124,"h":-0.001},{"t":130,"h":-0.0001},{"t":136,"h":-0.0003},{"t":142,"h":0.0001},{"t":147,"h":0.0001},{"t":150,"h":-0.0005},{"t":153,"h":-0.0004},{"t":155,"h":0.0003},{"t":158,"h":0.0012},{"t":161,"h":0.0018},{"t":165,"h":0.0014},{"t":168,"h":0.0016},{"t":171,"h":0.0012},{"t":173,"h":0.0012},{"t":175,"h":0.0025}
  ]
},
"vconcat": [
{
  "width": 595, "height": 245,
  "resolve": {"scale": {"color": "independent"}},
  "layer": [
    {"data": {"name": "months"},
     "mark": {"type": "rule", "color": "#e4e4e4", "strokeWidth": 1},
     "encoding": {"x": {"field": "t", "type": "quantitative", "scale": {"domain": [-12, 205.1], "nice": false, "zero": false, "padding": 0}, "axis": null}}},
    {"data": {"values": [{"g":1.045},{"g":1.06},{"g":1.075},{"g":1.09},{"g":1.105},{"g":1.12},{"g":1.135}]},
     "mark": {"type": "rule", "color": "#e4e4e4", "strokeWidth": 1},
     "encoding": {"y": {"field": "g", "type": "quantitative", "scale": {"domain": [1.0427, 1.1385], "nice": false, "zero": false, "padding": 0},
        "axis": {"orient": "right", "title": null, "grid": false, "labels": false, "tickSize": 2,
          "values": [1.045,1.05,1.055,1.06,1.065,1.07,1.075,1.08,1.085,1.09,1.095,1.1,1.105,1.11,1.115,1.12,1.125,1.13,1.135]}}}},
    {"data": {"name": "cloud"},
     "mark": {"type": "area"},
     "encoding": {
       "x": {"field": "t", "type": "quantitative", "axis": null},
       "y": {"field": "hi", "type": "quantitative"},
       "y2": {"field": "lo"},
       "color": {"field": "kind", "type": "nominal", "scale": {"domain": ["up","down"], "range": ["#8fca8f","#ff9a9a"]}, "legend": null},
       "detail": {"field": "seg"}}},
    {"data": {"name": "candles"},
     "mark": {"type": "rule", "color": "#3a3a3a", "strokeWidth": 0.8},
     "encoding": {"x": {"field": "t", "type": "quantitative", "axis": null}, "y": {"field": "l", "type": "quantitative"}, "y2": {"field": "h"}}},
    {"data": {"name": "candles"},
     "mark": {"type": "bar", "size": 2.2, "stroke": "#333333", "strokeWidth": 0.3},
     "encoding": {"x": {"field": "t", "type": "quantitative", "axis": null}, "y": {"field": "o", "type": "quantitative"}, "y2": {"field": "c"},
       "color": {"condition": {"test": "datum.c >= datum.o", "value": "#33b833"}, "value": "#e82828"}}},
    {"data": {"name": "sma"},
     "mark": {"type": "line", "strokeWidth": 1.1, "interpolate": "monotone"},
     "encoding": {"x": {"field": "t", "type": "quantitative", "axis": null}, "y": {"field": "v", "type": "quantitative"},
       "color": {"field": "ma", "type": "nominal", "scale": {"domain": ["sma50","sma200"], "range": ["#3c9c3c","#2424f0"]}, "legend": null}}},
    {"data": {"values": [{"line":"res","t":153,"p":1.0681},{"line":"res","t":192,"p":1.0780},{"line":"sup","t":153,"p":1.0486},{"line":"sup","t":192,"p":1.0580}]},
     "mark": {"type": "line", "strokeWidth": 1, "strokeDash": [3,2]},
     "encoding": {"x": {"field": "t", "type": "quantitative", "axis": null}, "y": {"field": "p", "type": "quantitative"},
       "color": {"field": "line", "type": "nominal", "scale": {"domain": ["res","sup"], "range": ["#ff3030","#33aa33"]}, "legend": null}}},
    {"data": {"values": [
       {"k":"p100","v":1.1353,"lab":"100.00% (1.13530)"},
       {"k":"p764","v":1.11474,"lab":"76.40% (1.11474)"},
       {"k":"p618","v":1.10202,"lab":"61.80% (1.10202)"},
       {"k":"p50","v":1.09174,"lab":"50.00% (1.09174)"},
       {"k":"p382","v":1.08146,"lab":"38.20% (1.08146)"},
       {"k":"p236","v":1.06874,"lab":"23.60% (1.06874)"},
       {"k":"p0","v":1.04818,"lab":"0.00% (1.04818)"}]},
     "mark": {"type": "text", "align": "left", "baseline": "bottom", "fontSize": 5, "dy": 1},
     "encoding": {"x": {"datum": 180, "axis": null}, "y": {"field": "v", "type": "quantitative"}, "text": {"field": "lab"},
       "color": {"field": "k", "type": "nominal", "scale": {"domain": ["p100","p764","p618","p50","p382","p236","p0"], "range": ["#a8a8a8","#4caf50","#2f9e9e","#5078d8","#5a82e6","#5a82e6","#a8a8a8"]}, "legend": null}}},
    {"data": {"name": "plabels"},
     "mark": {"type": "text", "align": "left", "baseline": "middle", "fontSize": 5.5, "color": "#222222"},
     "encoding": {"x": {"datum": 206.2, "axis": null}, "y": {"field": "g", "type": "quantitative"}, "text": {"field": "g", "format": ".5f"}}},
    {"data": {"values": [{"k":"sma200","v":1.0903},{"k":"last","v":1.0748},{"k":"sma50","v":1.0673}]},
     "mark": {"type": "rule", "strokeWidth": 8, "strokeCap": "butt"},
     "encoding": {"x": {"datum": 205.4, "axis": null}, "x2": {"datum": 213.5}, "y": {"field": "v", "type": "quantitative"},
       "color": {"field": "k", "type": "nominal", "scale": {"domain": ["sma200","last","sma50"], "range": ["#1f2fff","#000000","#1e8e1e"]}, "legend": null}}},
    {"data": {"values": [{"v":1.0903,"lab":"1.09030"},{"v":1.0748,"lab":"1.07480"},{"v":1.0673,"lab":"1.06730"}]},
     "mark": {"type": "text", "align": "left", "baseline": "middle", "fontSize": 5.5, "color": "#ffffff"},
     "encoding": {"x": {"datum": 206.2, "axis": null}, "y": {"field": "v", "type": "quantitative"}, "text": {"field": "lab"}}}
  ]
},
{
  "width": 595, "height": 44,
  "layer": [
    {"data": {"name": "months"},
     "mark": {"type": "rule", "color": "#e4e4e4", "strokeWidth": 1},
     "encoding": {"x": {"field": "t", "type": "quantitative", "scale": {"domain": [-12, 205.1], "nice": false, "zero": false, "padding": 0}, "axis": null}}},
    {"data": {"values": [{"v":70}]},
     "mark": {"type": "rule", "color": "#77cc77", "strokeDash": [1,1], "strokeWidth": 1},
     "encoding": {"y": {"field": "v", "type": "quantitative", "scale": {"domain": [22.5, 75.2], "nice": false, "zero": false},
       "axis": {"orient": "right", "title": null, "grid": false, "labels": false, "tickSize": 2, "values": [30,40,50,60,70]}}}},
    {"data": {"values": [{"v":30}]},
     "mark": {"type": "rule", "color": "#ff5555", "strokeDash": [2,1], "strokeWidth": 1},
     "encoding": {"y": {"field": "v", "type": "quantitative"}}},
    {"data": {"name": "rsi"},
     "mark": {"type": "line", "color": "#4545ff", "strokeWidth": 1.3},
     "encoding": {"x": {"field": "t", "type": "quantitative", "axis": null}, "y": {"field": "v", "type": "quantitative"}}},
    {"data": {"values": [{"v":30},{"v":40},{"v":50},{"v":70}]},
     "mark": {"type": "text", "align": "left", "baseline": "middle", "fontSize": 5.5, "color": "#222222"},
     "encoding": {"x": {"datum": 206.2, "axis": null}, "y": {"field": "v", "type": "quantitative"}, "text": {"field": "v"}}},
    {"data": {"values": [{"v":61}]},
     "mark": {"type": "rule", "color": "#1f2fff", "strokeWidth": 7, "strokeCap": "butt"},
     "encoding": {"x": {"datum": 205.4, "axis": null}, "x2": {"datum": 213}, "y": {"field": "v", "type": "quantitative"}}},
    {"data": {"values": [{"v":61,"lab":"61"}]},
     "mark": {"type": "text", "align": "left", "baseline": "middle", "fontSize": 5.5, "color": "#ffffff"},
     "encoding": {"x": {"datum": 207.5, "axis": null}, "y": {"field": "v", "type": "quantitative"}, "text": {"field": "lab"}}}
  ]
},
{
  "width": 595, "height": 41,
  "resolve": {"scale": {"color": "independent"}},
  "layer": [
    {"data": {"values": [{"lab":"6E DEC23"}]},
     "mark": {"type": "text", "align": "center", "baseline": "alphabetic", "fontSize": 46, "color": "#dadada", "clip": true},
     "encoding": {"x": {"datum": 96}, "y": {"datum": -0.0082}, "text": {"field": "lab"}}},
    {"data": {"name": "hist"},
     "mark": {"type": "bar", "size": 2, "color": "#aaaaaa"},
     "encoding": {
       "x": {"field": "t", "type": "quantitative", "scale": {"domain": [-12, 205.1], "nice": false, "zero": false, "padding": 0},
         "axis": {"title": null, "values": [0,23,42,64,86,107,130,151,173,194], "grid": true, "domain": false, "tickSize": 3, "labelFontSize": 6, "labelPadding": 2,
           "labelExpr": "datum.value==0?'Mar':datum.value==23?'Apr':datum.value==42?'May':datum.value==64?'Jun':datum.value==86?'Jul':datum.value==107?'Aug':datum.value==130?'Sep':datum.value==151?'Oct':datum.value==173?'Nov':'Dec'"}},
       "y": {"field": "h", "type": "quantitative", "scale": {"domain": [-0.0105, 0.0100], "nice": false, "zero": false, "padding": 0},
         "axis": {"orient": "right", "title": null, "grid": false, "labels": false, "tickSize": 2, "values": [-0.005, 0.005]}},
       "y2": {"datum": 0}}},
    {"data": {"name": "macd"},
     "mark": {"type": "line", "strokeWidth": 1.2, "interpolate": "monotone"},
     "encoding": {"x": {"field": "t", "type": "quantitative"}, "y": {"field": "v", "type": "quantitative"},
       "color": {"field": "s", "type": "nominal", "scale": {"domain": ["macd","sig"], "range": ["#36a836","#c4504a"]}, "legend": null}}},
    {"data": {"values": [{"lab":"© 2023 NinjaTrader, LLC"}]},
     "mark": {"type": "text", "align": "left", "baseline": "middle", "fontSize": 5, "color": "#222222"},
     "encoding": {"x": {"datum": -11.3}, "y": {"datum": -0.0075}, "text": {"field": "lab"}}},
    {"data": {"values": [{"v":0.005},{"v":-0.005}]},
     "mark": {"type": "text", "align": "left", "baseline": "middle", "fontSize": 5.5, "color": "#222222"},
     "encoding": {"x": {"datum": 206.2}, "y": {"field": "v", "type": "quantitative"}, "text": {"field": "v", "format": ".3f"}}},
    {"data": {"values": [{"k":"hist","v":0.0017},{"k":"sig","v":-0.0022}]},
     "mark": {"type": "rule", "strokeWidth": 7, "strokeCap": "butt"},
     "encoding": {"x": {"datum": 205.4}, "x2": {"datum": 213.5}, "y": {"field": "v", "type": "quantitative"},
       "color": {"field": "k", "type": "nominal", "scale": {"domain": ["hist","sig"], "range": ["#9c9c9c","#b52a2a"]}, "legend": null}}},
    {"data": {"values": [{"v":0.0017,"lab":"0.00172"},{"v":-0.0022,"lab":"-0.00218"}]},
     "mark": {"type": "text", "align": "left", "baseline": "middle", "fontSize": 5, "color": "#ffffff"},
     "encoding": {"x": {"datum": 206.1}, "y": {"field": "v", "type": "quantitative"}, "text": {"field": "lab"}}}
  ]
}
]
}
